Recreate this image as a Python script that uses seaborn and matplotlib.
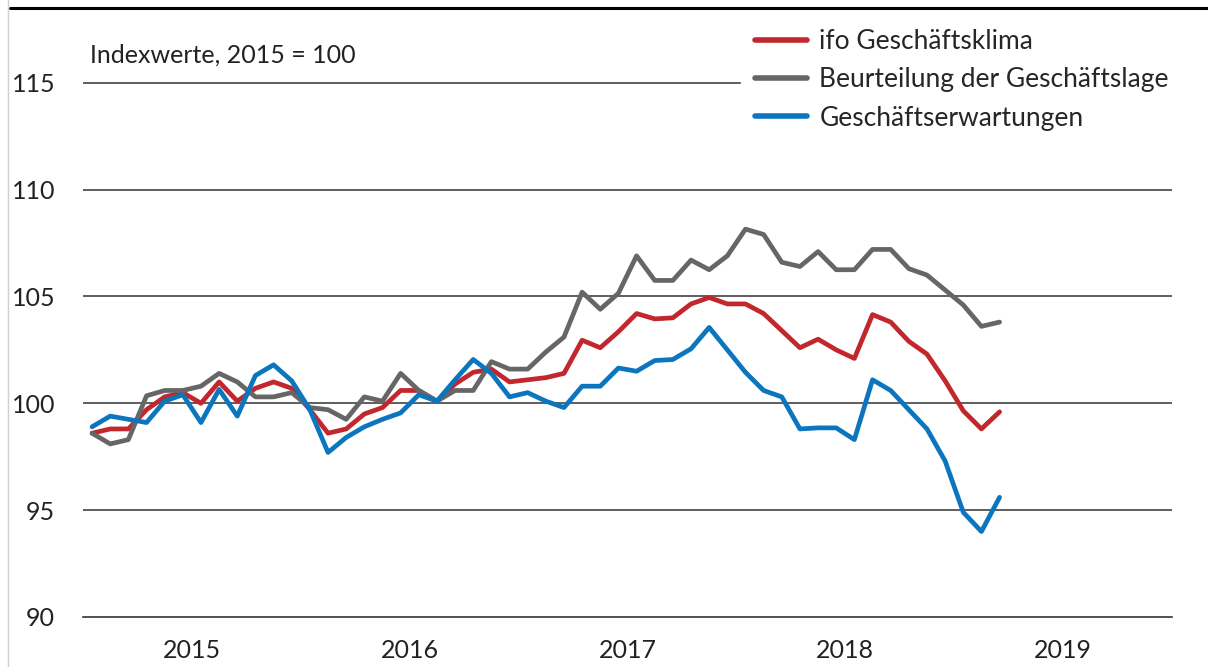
import matplotlib
matplotlib.use("Agg")
import matplotlib.pyplot as plt
from matplotlib.lines import Line2D
import seaborn as sb
import numpy as np
import pandas as pd

# monthly values Jan 2015 - Mar 2019 (2015 = 100)
klima = [98.6, 98.8, 98.8, 99.7, 100.3, 100.5, 100.0, 101.0, 100.1, 100.7, 101.0, 100.7,
         99.7, 98.6, 98.8, 99.5, 99.8, 100.6, 100.6, 100.1, 100.9, 101.45, 101.6, 101.0,
         101.1, 101.2, 101.4, 102.95, 102.6, 103.35, 104.2, 103.95, 104.0, 104.65, 104.95, 104.65,
         104.65, 104.2, 103.4, 102.6, 103.0, 102.5, 102.1, 104.15, 103.8, 102.9, 102.3, 101.05,
         99.65, 98.8, 99.6]
lage = [98.6, 98.1, 98.3, 100.35, 100.6, 100.6, 100.8, 101.4, 101.0, 100.3, 100.3, 100.5,
        99.8, 99.7, 99.25, 100.3, 100.1, 101.4, 100.6, 100.1, 100.6, 100.6, 101.95, 101.6,
        101.6, 102.4, 103.1, 105.2, 104.4, 105.15, 106.9, 105.75, 105.75, 106.7, 106.25, 106.9,
        108.15, 107.9, 106.6, 106.4, 107.1, 106.25, 106.25, 107.2, 107.2, 106.3, 106.0, 105.3,
        104.6, 103.6, 103.8]
erwartungen = [98.9, 99.4, 99.25, 99.1, 100.1, 100.4, 99.1, 100.65, 99.4, 101.3, 101.8, 101.05,
               99.7, 97.7, 98.4, 98.9, 99.25, 99.55, 100.4, 100.1, 101.1, 102.05, 101.4, 100.3,
               100.5, 100.1, 99.8, 100.8, 100.8, 101.65, 101.5, 102.0, 102.05, 102.55, 103.55, 102.5,
               101.45, 100.6, 100.3, 98.8, 98.85, 98.85, 98.3, 101.1, 100.6, 99.7, 98.8, 97.3,
               94.9, 94.0, 95.6]
series_names = ["ifo Geschäftsklima", "Beurteilung der Geschäftslage", "Geschäftserwartungen"]
years = ["2015", "2016", "2017", "2018", "2019"]
y_ticks = [90, 95, 100, 105, 110, 115]

colors = ["#c1272d", "#666666", "#0b76be"]
fs = 18

months = np.arange(len(klima)) + 0.5
df = pd.DataFrame({
    "monat": np.concatenate([months] * 3),
    "wert": klima + lage + erwartungen,
    "reihe": np.repeat(series_names, len(klima)),
})

sb.set_style("white")
plt.rcParams['font.family'] = ['Lato', 'DejaVu Sans']

fig = plt.figure(figsize=(12.08, 6.67), dpi=100)
ax = fig.add_axes([83/1208, 50/667, 1089/1208, 577/667])

for v in y_ticks[1:]:
    ax.axhline(v, color="#333333", lw=1.1, zorder=1)

sb.lineplot(data=df, x="monat", y="wert", hue="reihe", hue_order=series_names,
            palette=colors, lw=3.4, ax=ax, zorder=3, legend=False)

ax.set_xlim(0, 60)
ax.set_ylim(90, 117)
ax.set_yticks(y_ticks)
ax.set_yticklabels([str(v) for v in y_ticks], fontsize=fs, color="#222222")
ax.tick_params(axis="y", length=0, pad=20)
ax.set_xticks(np.arange(0, 61, 12))
ax.set_xticklabels([])
ax.set_xticks(np.arange(6, 60, 12), minor=True)
ax.set_xticklabels(years, minor=True, fontsize=fs, color="#222222")
ax.tick_params(axis="x", which="major", length=7, width=1.2, color="#333333", direction="out")
ax.tick_params(axis="x", which="minor", length=0, pad=16)
ax.set_xlabel("")
ax.set_ylabel("")
for s in ["top", "right", "left"]:
    ax.spines[s].set_visible(False)
ax.spines["bottom"].set_color("#333333")
ax.spines["bottom"].set_linewidth(1.2)

handles = [Line2D([], [], color=c, lw=4) for c in colors]
leg = ax.legend(handles, series_names, loc="upper right", bbox_to_anchor=(1182/1208, 1 - 16/667),
                bbox_transform=fig.transFigure, frameon=True, fontsize=19, handlelength=2.0,
                handletextpad=0.45, labelspacing=0.5, borderpad=0.5, borderaxespad=0)
leg.get_frame().set_facecolor("white")
leg.get_frame().set_edgecolor("white")
leg.get_frame().set_alpha(1)
leg.get_frame().set_boxstyle("square", pad=0)

fig.text(90/1208, 1 - 55/667, "Indexwerte, 2015 = 100", fontsize=fs, color="#222222", va="center")

# frame lines of the original graphic
fig.add_artist(Line2D([10/1208, 1], [1 - 8/667, 1 - 8/667], color="black", lw=2.2, transform=fig.transFigure))
fig.add_artist(Line2D([8/1208, 8/1208], [0, 1], color="#d0d0d0", lw=1, transform=fig.transFigure))

fig.savefig("out.png", dpi=100)
